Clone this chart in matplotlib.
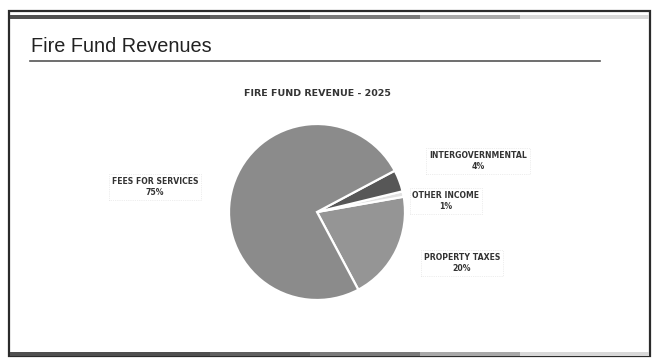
import matplotlib
matplotlib.use("Agg")
import matplotlib.pyplot as plt
from matplotlib.patches import Rectangle
import numpy as np

# Revenue shares (percent), ordered counter-clockwise from the lower-right edge
categories = ["PROPERTY TAXES", "OTHER INCOME", "INTERGOVERNMENTAL", "FEES FOR SERVICES"]
shares = [20, 1, 4, 75]
colors = ["#959595", "#e2e2e2", "#575757", "#8b8b8b"]

W, H = 656, 362
fig = plt.figure(figsize=(W / 100, H / 100), dpi=100)
ax = fig.add_axes([0, 0, 1, 1])
ax.set_xlim(0, W)
ax.set_ylim(0, H)
ax.set_aspect("equal")
ax.axis("off")

def Y(y):
    return H - y

# Slide frame
ax.add_patch(Rectangle((9, Y(356)), 641, 345, fill=False, ec="#2b2b2b", lw=1.6))
# Top and bottom shaded bands
for x0, x1, c in [(10, 210, "#505050"), (210, 310, "#606060"), (310, 420, "#7a7a7a"),
                  (420, 520, "#a8a8a8"), (520, 649, "#d8d8d8")]:
    ax.add_patch(Rectangle((x0, Y(19)), x1 - x0, 4, fc=c, ec="none"))
    ax.add_patch(Rectangle((x0, Y(356)), x1 - x0, 4, fc=c, ec="none"))

# Slide heading and rule
ax.text(31, Y(46), "Fire Fund Revenues", fontsize=14.3, family="Liberation Sans",
        color="#222222", va="center", ha="left")
ax.plot([30, 600], [Y(61), Y(61)], color="#555555", lw=1.2)

# Chart title
ax.text(317, Y(93), "FIRE FUND REVENUE - 2025", fontsize=6.8, fontweight="bold",
        family="Liberation Sans Narrow", color="#333333", ha="center", va="center")

# Pie
ax.pie(shares, colors=colors, startangle=-62, counterclock=True,
       center=(317, Y(212)), radius=88,
       wedgeprops=dict(edgecolor="white", linewidth=1.6), frame=True)
ax.set_xlim(0, W)
ax.set_ylim(0, H)
ax.axis("off")

# Data labels
label_pos = {
    "FEES FOR SERVICES": (155, 187),
    "INTERGOVERNMENTAL": (478, 161),
    "OTHER INCOME": (446, 201),
    "PROPERTY TAXES": (462, 263),
}
for name, val in zip(categories, shares):
    x, y = label_pos[name]
    ax.text(x, Y(y), f"{name}\n{val}%", fontsize=5.6, fontweight="bold",
            family="Liberation Sans Narrow", color="#333333",
            ha="center", va="center", linespacing=1.35,
            bbox=dict(boxstyle="square,pad=0.35", fc="white",
                      ec="#dddddd", lw=0.5, ls=":"))

fig.savefig("out.png", dpi=100, facecolor="white")
